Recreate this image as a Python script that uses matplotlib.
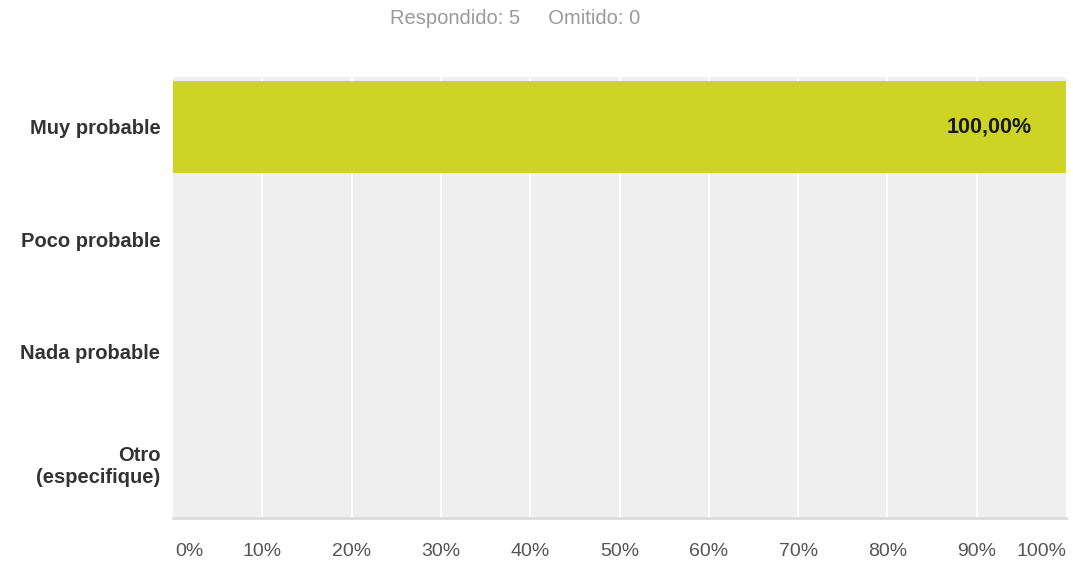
import matplotlib.pyplot as plt

plt.rcParams['font.family'] = ['Liberation Sans', 'DejaVu Sans']

# datos
categorias = ['Muy probable', 'Poco probable', 'Nada probable', 'Otro\n(especifique)']
porcentajes = [100.0, 0.0, 0.0, 0.0]
ticks = [0, 10, 20, 30, 40, 50, 60, 70, 80, 90, 100]
respondido = 5
omitido = 0

fig = plt.figure(figsize=(10.73, 5.68), dpi=100)
ax = fig.add_axes([173 / 1073, 1 - 518 / 568, (1066 - 173) / 1073, (518 - 77) / 568])
ax.set_facecolor('#efefef')

y = list(range(len(categorias)))
ax.barh(y, porcentajes, height=0.82, color='#cdd425', zorder=3)
ax.set_ylim(3.49, -0.446)
ax.set_xlim(0, 100)

# lineas de la cuadricula
for t in ticks[1:-1]:
    ax.axvline(t, color='white', lw=1.5, zorder=1)

for s in ['top', 'left', 'right']:
    ax.spines[s].set_visible(False)
ax.spines['bottom'].set_color('#dcdcdc')
ax.spines['bottom'].set_linewidth(2)

ax.set_yticks(y)
ax.set_yticklabels(categorias, fontsize=14.5, fontweight='bold', color='#333333')
ax.tick_params(axis='y', length=0, pad=9)
ax.set_xticks([])

# etiquetas del eje x
for t in ticks:
    ha = 'center'
    if t == 0:
        ha = 'left'
    elif t == 100:
        ha = 'right'
    xt = t + (0.3 if t == 0 else 0)
    ax.text(xt, 3.49 + 0.3, f'{t}%', ha=ha, va='center',
            fontsize=14, color='#555555')

for i, v in enumerate(porcentajes):
    if v > 0:
        ax.text(v - 3.8, i, f'{v:.2f}'.replace('.', ',') + '%', ha='right', va='center',
                fontsize=15.5, fontweight='bold', color='#1a1a1a', zorder=4)

fig.text(515 / 1073, 1 - 19 / 568, f'Respondido: {respondido}     Omitido: {omitido}',
         ha='center', va='center', fontsize=14.5, color='#9a9a9a')

fig.savefig('out.png', dpi=100, facecolor='white')
